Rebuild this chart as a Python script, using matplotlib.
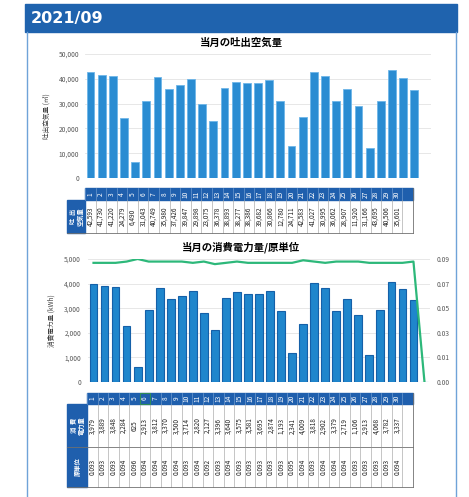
import matplotlib
matplotlib.use('Agg')
import matplotlib.pyplot as plt
import numpy as np
from matplotlib.patches import Rectangle
from matplotlib.ticker import FuncFormatter

plt.rcParams['font.family'] = ['Noto Sans CJK JP', 'DejaVu Sans']

month_label = '2021/09'
days = [str(d) for d in range(1, 31)]
air_volume = [42593, 41730, 41220, 24279, 6490, 31043, 40749, 35980, 37426, 39847,
              29898, 23075, 36378, 38893, 38277, 38386, 39682, 30866, 12780, 24711,
              42583, 41027, 30995, 36062, 28907, 11920, 31166, 43695, 40506, 35601]
power = [3979, 3889, 3848, 2284, 625, 2913, 3812, 3370, 3500, 3714,
         2820, 2127, 3396, 3640, 3575, 3581, 3695, 2874, 1193, 2341,
         4009, 3818, 2902, 3379, 2719, 1106, 2913, 4068, 3782, 3337]
unit = [0.093, 0.093, 0.093, 0.094, 0.096, 0.094, 0.094, 0.094, 0.094, 0.093,
        0.094, 0.092, 0.093, 0.094, 0.093, 0.093, 0.093, 0.093, 0.093, 0.095,
        0.094, 0.093, 0.094, 0.094, 0.094, 0.093, 0.093, 0.093, 0.093, 0.094]
right_tick_labels = ['0.00', '0.01', '0.03', '0.05', '0.07', '0.09']

W, H = 469, 497
fig = plt.figure(figsize=(W / 100, H / 100), dpi=100)
fig.patch.set_facecolor('white')

def fax(x0, y0, x1, y1):
    return fig.add_axes([x0 / W, 1 - y1 / H, (x1 - x0) / W, (y1 - y0) / H])

# background overlay in pixel coords
bg = fax(0, 0, W, H)
bg.set_xlim(0, W)
bg.set_ylim(H, 0)
bg.axis('off')
bg.add_patch(Rectangle((25, 4), 432, 28, color='#1F63AE', zorder=1))
bg.text(31, 18, month_label, color='white', fontsize=11.5, fontweight='bold',
        va='center', ha='left', family=['DejaVu Sans'])
bg.plot([27, 27], [32, H], color='#6FA3D8', lw=1)
bg.plot([456, 456], [32, H], color='#6FA3D8', lw=1)
bg.text(241, 43, '当月の吐出空気量', fontsize=7.5, fontweight='bold', ha='center', va='center')
bg.text(241, 247, '当月の消費電力量/原単位', fontsize=7.5, fontweight='bold', ha='center', va='center')

tick_kw = dict(labelsize=4.8, colors='#595959', length=0)
fmt = FuncFormatter(lambda v, p: f'{int(v):,}')

# chart 1
ax1 = fax(85, 54, 431, 178)
x = np.arange(1, 31)
ax1.bar(x, air_volume, width=0.7, color='#2A8CD2', edgecolor='#6EB6E8', linewidth=0.6, zorder=3)
ax1.set_xlim(0.5, 31.5)
ax1.set_ylim(0, 50000)
ax1.set_yticks(np.arange(0, 50001, 10000))
ax1.yaxis.set_major_formatter(fmt)
ax1.set_xticks([])
ax1.tick_params(axis='y', pad=4, **tick_kw)
ax1.grid(axis='y', color='#E3E3E3', lw=0.6, zorder=0)
for s in ax1.spines.values():
    s.set_visible(False)
ax1.set_ylabel('吐出空気量 (㎥)', fontsize=4.8, color='#404040', labelpad=6)

# chart 2
ax2 = fax(88, 259, 430, 382)
x31 = np.arange(1, 32)
ax2.bar(x31, power + [0], width=0.7, color='#1F86CC', edgecolor='#1560A8', linewidth=0.8, zorder=3)
ax2.set_xlim(0.5, 31.5)
ax2.set_ylim(0, 5000)
ax2.set_yticks(np.arange(0, 5001, 1000))
ax2.yaxis.set_major_formatter(fmt)
ax2.set_xticks([])
ax2.tick_params(axis='y', pad=5, **tick_kw)
ax2.grid(axis='y', color='#E3E3E3', lw=0.6, zorder=0)
for s in ax2.spines.values():
    s.set_visible(False)
ax2.set_ylabel('消費電力量 (kWh)', fontsize=4.8, color='#404040', labelpad=6)
ax2b = ax2.twinx()
ax2b.plot(x31, unit + [0], color='#2DB87A', lw=1.6, zorder=4)
ax2b.set_ylim(0, 0.096)
ax2b.set_yticks(np.linspace(0, 0.096, 6))
ax2b.set_yticklabels(right_tick_labels)
ax2b.tick_params(axis='y', pad=5, **tick_kw)
for s in ax2b.spines.values():
    s.set_visible(False)

# tables
hdr_blue = '#1F5FAD'
def draw_table(x0, x1, lab_x0, y_hdr, y_rows, rows):
    n = 31
    cw = (x1 - x0) / n
    # header
    bg.add_patch(Rectangle((x0, y_hdr[0]), x1 - x0, y_hdr[1] - y_hdr[0], color=hdr_blue, zorder=2))
    for i in range(n):
        cx = x0 + (i + 0.5) * cw
        if i < len(days):
            bg.text(cx, (y_hdr[0] + y_hdr[1]) / 2, days[i], rotation=90, color='white',
                    fontsize=4.8, ha='center', va='center', zorder=4)
        bg.plot([x0 + i * cw] * 2, y_hdr, color='#7FA8D8', lw=0.4, zorder=3)
    # rows
    for (label, values), (ya, yb) in zip(rows, zip(y_rows[:-1], y_rows[1:])):
        bg.add_patch(Rectangle((lab_x0, ya), x0 - lab_x0, yb - ya, color=hdr_blue, zorder=2))
        bg.text((lab_x0 + x0) / 2, (ya + yb) / 2, label, rotation=90, color='white',
                fontsize=4.5, fontweight='bold', ha='center', va='center',
                linespacing=1.1, zorder=4)
        for i in range(n):
            cx = x0 + (i + 0.5) * cw
            if i < len(values):
                bg.text(cx, (ya + yb) / 2, values[i], rotation=90, color='#202020',
                        fontsize=4.6, ha='center', va='center', zorder=4)
            if i > 0:
                bg.plot([x0 + i * cw] * 2, [ya, yb], color='#9A9A9A', lw=0.4, zorder=3)
        bg.plot([lab_x0, x1], [yb, yb], color='#707070', lw=0.6, zorder=3)
    bg.plot([x1, x1], [y_hdr[0], y_rows[-1]], color='#707070', lw=0.6, zorder=3)
    return cw

draw_table(85, 413, 67, (188, 200), [200, 233],
           [('吐  出\n空気量', [f'{v:,}' for v in air_volume])])
cw2 = draw_table(87, 413, 67, (393, 404), [404, 447, 487],
                 [('消  費\n電力量', [f'{v:,}' for v in power]),
                  ('原単位', [f'{v:.3f}' for v in unit])])
# selected cell marker on header "6"
bg.add_patch(Rectangle((87 + 5 * cw2, 393), cw2, 11, fill=False, edgecolor='#2E8B57', lw=0.8, zorder=5))

fig.savefig('out.png', dpi=100)
